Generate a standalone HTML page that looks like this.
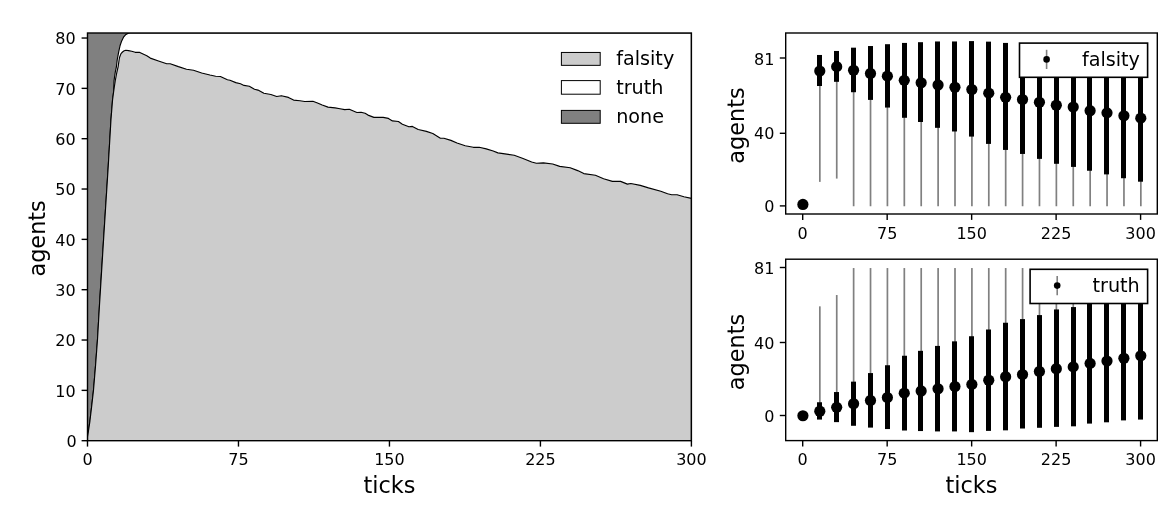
<!DOCTYPE html>
<html><head><meta charset="utf-8"><title>agents over ticks</title>
<style>html,body{margin:0;padding:0;background:#fff}svg{display:block}</style></head>
<body>
<svg width="1175" height="514" viewBox="0 0 1175 514" font-family="'DejaVu Sans', 'Liberation Sans', sans-serif" fill="#000">
<rect width="1175" height="514" fill="#fff"/>
<defs><clipPath id="c1"><rect x="87.5" y="33.0" width="603.9" height="407.7"/></clipPath>
<clipPath id="c2"><rect x="785.7" y="33.0" width="371.6" height="181.0"/></clipPath>
<clipPath id="c3"><rect x="785.7" y="259.2" width="371.7" height="181.4"/></clipPath></defs>
<g clip-path="url(#c1)" stroke="#000" stroke-width="1.15" stroke-linejoin="round">
<rect x="87.5" y="33.0" width="603.9" height="407.7" fill="#808080" stroke="none"/>
<polygon fill="#ffffff" points="87.50,437.00 88.30,432.00 89.90,421.30 91.60,407.00 93.50,390.30 95.60,365.00 97.50,339.50 99.50,305.00 103.80,236.00 108.20,167.00 110.95,120.00 112.55,100.00 113.60,92.00 114.05,80.50 115.30,72.00 116.40,66.80 117.20,60.00 118.70,51.80 120.10,45.50 121.70,40.90 123.50,37.20 125.50,34.80 127.80,33.40 130.00,32.90 691.40,32.90 691.4,440.7 87.5,440.7"/>
<polygon fill="#cccccc" points="87.50,437.00 88.30,432.00 89.90,421.30 91.60,407.00 93.50,390.30 95.60,365.00 97.50,339.50 99.50,305.00 103.80,236.00 108.20,167.00 110.95,120.00 112.55,100.00 113.60,92.00 114.30,87.00 115.30,80.50 116.90,72.00 118.10,66.80 119.10,60.00 119.60,57.20 121.00,53.60 122.50,52.00 124.20,50.80 125.80,50.30 128.50,50.60 131.70,51.30 135.20,52.30 139.30,52.30 146.80,55.80 150.30,58.10 158.50,61.00 166.70,63.70 170.20,63.70 178.40,66.60 186.50,69.20 193.50,70.30 201.70,73.00 209.90,75.00 215.70,76.20 220.40,76.50 227.40,79.70 230.00,80.30 235.80,82.60 240.50,83.80 244.00,85.40 249.30,86.30 254.50,89.30 258.00,90.10 263.90,93.30 270.90,94.50 276.70,96.50 281.40,95.70 288.40,97.40 293.60,100.10 300.00,100.70 304.70,101.50 312.90,101.30 317.50,103.00 322.20,105.00 328.00,107.10 335.10,107.90 340.00,108.70 344.70,109.60 349.30,109.30 356.90,112.50 361.00,112.20 365.10,113.30 368.00,115.10 373.90,117.40 383.20,117.40 388.40,118.40 392.50,120.90 398.40,121.50 402.40,124.20 408.90,126.80 412.40,126.40 418.20,129.50 426.40,131.40 432.80,133.50 440.40,138.20 443.90,138.20 450.90,140.40 457.00,143.00 465.20,145.70 473.30,147.30 479.20,147.30 486.20,148.90 493.20,151.00 497.90,152.90 504.90,153.90 514.20,155.30 522.40,158.20 531.70,162.00 536.40,163.20 543.40,162.90 552.70,164.00 559.70,166.40 570.20,167.70 577.70,170.60 583.80,173.60 595.40,175.20 603.60,178.80 612.40,181.40 620.60,181.40 627.40,184.10 630.80,183.50 640.30,185.40 648.50,187.90 660.80,191.30 667.60,193.80 671.70,194.70 677.10,194.70 683.90,196.70 691.40,198.40 691.4,440.7 87.5,440.7"/>
</g>
<rect x="87.5" y="33.0" width="603.9" height="407.7" stroke="#000" stroke-width="1.4" fill="none" stroke-linejoin="miter"/>
<line x1="87.50" y1="440.70" x2="87.50" y2="446.60" stroke="#000" stroke-width="1.4" fill="none"/>
<text x="87.50" y="465.1" font-size="16" text-anchor="middle">0</text>
<line x1="238.47" y1="440.70" x2="238.47" y2="446.60" stroke="#000" stroke-width="1.4" fill="none"/>
<text x="238.47" y="465.1" font-size="16" text-anchor="middle">75</text>
<line x1="389.45" y1="440.70" x2="389.45" y2="446.60" stroke="#000" stroke-width="1.4" fill="none"/>
<text x="389.45" y="465.1" font-size="16" text-anchor="middle">150</text>
<line x1="540.42" y1="440.70" x2="540.42" y2="446.60" stroke="#000" stroke-width="1.4" fill="none"/>
<text x="540.42" y="465.1" font-size="16" text-anchor="middle">225</text>
<line x1="691.40" y1="440.70" x2="691.40" y2="446.60" stroke="#000" stroke-width="1.4" fill="none"/>
<text x="691.40" y="465.1" font-size="16" text-anchor="middle">300</text>
<line x1="81.60" y1="440.70" x2="87.50" y2="440.70" stroke="#000" stroke-width="1.4" fill="none"/>
<text x="76.70" y="447.00" font-size="16" text-anchor="end">0</text>
<line x1="81.60" y1="390.37" x2="87.50" y2="390.37" stroke="#000" stroke-width="1.4" fill="none"/>
<text x="75.70" y="396.67" font-size="16" text-anchor="end">10</text>
<line x1="81.60" y1="340.03" x2="87.50" y2="340.03" stroke="#000" stroke-width="1.4" fill="none"/>
<text x="75.70" y="346.33" font-size="16" text-anchor="end">20</text>
<line x1="81.60" y1="289.70" x2="87.50" y2="289.70" stroke="#000" stroke-width="1.4" fill="none"/>
<text x="75.70" y="296.00" font-size="16" text-anchor="end">30</text>
<line x1="81.60" y1="239.37" x2="87.50" y2="239.37" stroke="#000" stroke-width="1.4" fill="none"/>
<text x="75.70" y="245.67" font-size="16" text-anchor="end">40</text>
<line x1="81.60" y1="189.03" x2="87.50" y2="189.03" stroke="#000" stroke-width="1.4" fill="none"/>
<text x="75.70" y="195.33" font-size="16" text-anchor="end">50</text>
<line x1="81.60" y1="138.70" x2="87.50" y2="138.70" stroke="#000" stroke-width="1.4" fill="none"/>
<text x="75.70" y="145.00" font-size="16" text-anchor="end">60</text>
<line x1="81.60" y1="88.37" x2="87.50" y2="88.37" stroke="#000" stroke-width="1.4" fill="none"/>
<text x="75.70" y="94.67" font-size="16" text-anchor="end">70</text>
<line x1="81.60" y1="38.03" x2="87.50" y2="38.03" stroke="#000" stroke-width="1.4" fill="none"/>
<text x="75.70" y="44.33" font-size="16" text-anchor="end">80</text>
<text x="389.4" y="492.8" font-size="22.4" text-anchor="middle">ticks</text>
<text transform="translate(45.4,238.4) rotate(-90)" font-size="22.4" text-anchor="middle">agents</text>
<rect x="561.4" y="52.45" width="38.8" height="12.9" fill="#cccccc" stroke="#000" stroke-width="1"/>
<text x="616.2" y="64.90" font-size="19.2">falsity</text>
<rect x="561.4" y="80.60" width="38.8" height="13.6" fill="#ffffff" stroke="#000" stroke-width="1"/>
<text x="616.2" y="93.90" font-size="19.2">truth</text>
<rect x="561.4" y="110.40" width="38.8" height="12.9" fill="#808080" stroke="#000" stroke-width="1"/>
<text x="616.2" y="122.70" font-size="19.2">none</text>
<g clip-path="url(#c2)">
<rect x="818.99" y="57.89" width="1.7" height="123.99" fill="#808080"/>
<rect x="835.89" y="57.89" width="1.7" height="120.70" fill="#808080"/>
<rect x="852.78" y="57.89" width="1.7" height="148.36" fill="#808080"/>
<rect x="869.68" y="57.89" width="1.7" height="148.36" fill="#808080"/>
<rect x="886.57" y="57.89" width="1.7" height="148.36" fill="#808080"/>
<rect x="903.47" y="57.89" width="1.7" height="148.36" fill="#808080"/>
<rect x="920.36" y="57.89" width="1.7" height="148.36" fill="#808080"/>
<rect x="937.26" y="57.89" width="1.7" height="148.36" fill="#808080"/>
<rect x="954.15" y="57.89" width="1.7" height="148.36" fill="#808080"/>
<rect x="971.05" y="57.89" width="1.7" height="148.36" fill="#808080"/>
<rect x="987.94" y="57.89" width="1.7" height="148.36" fill="#808080"/>
<rect x="1004.83" y="57.89" width="1.7" height="148.36" fill="#808080"/>
<rect x="1021.73" y="57.89" width="1.7" height="148.36" fill="#808080"/>
<rect x="1038.62" y="57.89" width="1.7" height="148.36" fill="#808080"/>
<rect x="1055.52" y="57.89" width="1.7" height="148.36" fill="#808080"/>
<rect x="1072.41" y="57.89" width="1.7" height="148.36" fill="#808080"/>
<rect x="1089.31" y="57.89" width="1.7" height="148.36" fill="#808080"/>
<rect x="1106.20" y="57.89" width="1.7" height="148.36" fill="#808080"/>
<rect x="1123.10" y="57.89" width="1.7" height="148.36" fill="#808080"/>
<rect x="1139.99" y="57.89" width="1.7" height="148.36" fill="#808080"/>
<rect x="817" y="54.97" width="5" height="31.04" fill="#000"/>
<rect x="834" y="50.96" width="5" height="30.86" fill="#000"/>
<rect x="851" y="47.67" width="5" height="44.55" fill="#000"/>
<rect x="868" y="46.03" width="5" height="53.87" fill="#000"/>
<rect x="885" y="44.20" width="5" height="63.36" fill="#000"/>
<rect x="902" y="42.92" width="5" height="74.87" fill="#000"/>
<rect x="918" y="42.19" width="5" height="79.80" fill="#000"/>
<rect x="935" y="41.46" width="5" height="86.37" fill="#000"/>
<rect x="952" y="41.46" width="5" height="90.02" fill="#000"/>
<rect x="969" y="41.09" width="5" height="95.50" fill="#000"/>
<rect x="986" y="41.64" width="5" height="102.26" fill="#000"/>
<rect x="1003" y="42.92" width="5" height="107.00" fill="#000"/>
<rect x="1020" y="45.11" width="5" height="108.83" fill="#000"/>
<rect x="1037" y="45.66" width="5" height="113.21" fill="#000"/>
<rect x="1054" y="46.57" width="5" height="117.23" fill="#000"/>
<rect x="1071" y="47.12" width="5" height="119.79" fill="#000"/>
<rect x="1087" y="50.59" width="5" height="120.15" fill="#000"/>
<rect x="1104" y="51.32" width="5" height="123.07" fill="#000"/>
<rect x="1121" y="53.33" width="5" height="124.90" fill="#000"/>
<rect x="1138" y="54.61" width="5" height="127.09" fill="#000"/>
<circle cx="802.90" cy="204.43" r="5.6"/>
<circle cx="819.79" cy="71.04" r="5.6"/>
<circle cx="836.69" cy="66.66" r="5.6"/>
<circle cx="853.58" cy="70.31" r="5.6"/>
<circle cx="870.48" cy="73.42" r="5.6"/>
<circle cx="887.37" cy="76.15" r="5.6"/>
<circle cx="904.27" cy="80.35" r="5.6"/>
<circle cx="921.16" cy="82.73" r="5.6"/>
<circle cx="938.06" cy="84.92" r="5.6"/>
<circle cx="954.95" cy="87.29" r="5.6"/>
<circle cx="971.85" cy="89.48" r="5.6"/>
<circle cx="988.74" cy="93.14" r="5.6"/>
<circle cx="1005.63" cy="97.34" r="5.6"/>
<circle cx="1022.53" cy="99.53" r="5.6"/>
<circle cx="1039.42" cy="102.27" r="5.6"/>
<circle cx="1056.32" cy="105.19" r="5.6"/>
<circle cx="1073.21" cy="107.01" r="5.6"/>
<circle cx="1090.11" cy="110.67" r="5.6"/>
<circle cx="1107.00" cy="112.86" r="5.6"/>
<circle cx="1123.90" cy="115.78" r="5.6"/>
<circle cx="1140.79" cy="118.15" r="5.6"/>
</g>
<rect x="785.7" y="33.0" width="371.6" height="181.0" stroke="#000" stroke-width="1.4" fill="none"/>
<line x1="802.70" y1="214.00" x2="802.70" y2="219.90" stroke="#000" stroke-width="1.4" fill="none"/>
<text x="802.70" y="238.50" font-size="16" text-anchor="middle">0</text>
<line x1="887.17" y1="214.00" x2="887.17" y2="219.90" stroke="#000" stroke-width="1.4" fill="none"/>
<text x="887.17" y="238.50" font-size="16" text-anchor="middle">75</text>
<line x1="971.65" y1="214.00" x2="971.65" y2="219.90" stroke="#000" stroke-width="1.4" fill="none"/>
<text x="971.65" y="238.50" font-size="16" text-anchor="middle">150</text>
<line x1="1056.12" y1="214.00" x2="1056.12" y2="219.90" stroke="#000" stroke-width="1.4" fill="none"/>
<text x="1056.12" y="238.50" font-size="16" text-anchor="middle">225</text>
<line x1="1140.59" y1="214.00" x2="1140.59" y2="219.90" stroke="#000" stroke-width="1.4" fill="none"/>
<text x="1140.59" y="238.50" font-size="16" text-anchor="middle">300</text>
<line x1="779.80" y1="58.00" x2="785.70" y2="58.00" stroke="#000" stroke-width="1.4" fill="none"/>
<text x="774.40" y="65" font-size="16" text-anchor="end">81</text>
<line x1="779.80" y1="133.30" x2="785.70" y2="133.30" stroke="#000" stroke-width="1.4" fill="none"/>
<text x="774.40" y="139" font-size="16" text-anchor="end">40</text>
<line x1="779.80" y1="205.90" x2="785.70" y2="205.90" stroke="#000" stroke-width="1.4" fill="none"/>
<text x="774.40" y="212" font-size="16" text-anchor="end">0</text>
<text transform="translate(743.6,125.6) rotate(-90)" font-size="22.4" text-anchor="middle">agents</text>
<rect x="1019.50" y="43.10" width="128.10" height="34.2" fill="#fff" stroke="#000" stroke-width="1.6"/>
<line x1="1046.60" y1="49.80" x2="1046.60" y2="69.00" stroke="#808080" stroke-width="1.6"/>
<circle cx="1046.60" cy="59.40" r="3.3"/>
<text x="1081.90" y="66.00" font-size="19.2">falsity</text>
<g clip-path="url(#c3)">
<rect x="818.99" y="306.34" width="1.7" height="108.86" fill="#808080"/>
<rect x="835.89" y="295.03" width="1.7" height="120.17" fill="#808080"/>
<rect x="852.78" y="268.04" width="1.7" height="147.16" fill="#808080"/>
<rect x="869.68" y="268.04" width="1.7" height="147.16" fill="#808080"/>
<rect x="886.57" y="268.04" width="1.7" height="147.16" fill="#808080"/>
<rect x="903.47" y="268.04" width="1.7" height="147.16" fill="#808080"/>
<rect x="920.36" y="268.04" width="1.7" height="147.16" fill="#808080"/>
<rect x="937.26" y="268.04" width="1.7" height="147.16" fill="#808080"/>
<rect x="954.15" y="268.04" width="1.7" height="147.16" fill="#808080"/>
<rect x="971.05" y="268.04" width="1.7" height="147.16" fill="#808080"/>
<rect x="987.94" y="268.04" width="1.7" height="147.16" fill="#808080"/>
<rect x="1004.83" y="268.04" width="1.7" height="147.16" fill="#808080"/>
<rect x="1021.73" y="268.04" width="1.7" height="147.16" fill="#808080"/>
<rect x="1038.62" y="268.96" width="1.7" height="146.24" fill="#808080"/>
<rect x="1055.52" y="268.96" width="1.7" height="146.24" fill="#808080"/>
<rect x="1072.41" y="268.96" width="1.7" height="146.24" fill="#808080"/>
<rect x="1089.31" y="268.96" width="1.7" height="146.24" fill="#808080"/>
<rect x="1106.20" y="268.96" width="1.7" height="146.24" fill="#808080"/>
<rect x="1123.10" y="268.96" width="1.7" height="146.24" fill="#808080"/>
<rect x="1139.99" y="268.96" width="1.7" height="146.24" fill="#808080"/>
<rect x="817" y="402.25" width="5" height="17.32" fill="#000"/>
<rect x="834" y="392.04" width="5" height="30.09" fill="#000"/>
<rect x="851" y="381.65" width="5" height="44.13" fill="#000"/>
<rect x="868" y="373.08" width="5" height="54.52" fill="#000"/>
<rect x="885" y="365.24" width="5" height="63.82" fill="#000"/>
<rect x="902" y="355.75" width="5" height="74.76" fill="#000"/>
<rect x="918" y="350.83" width="5" height="80.23" fill="#000"/>
<rect x="935" y="345.91" width="5" height="85.52" fill="#000"/>
<rect x="952" y="341.35" width="5" height="90.08" fill="#000"/>
<rect x="969" y="336.24" width="5" height="95.92" fill="#000"/>
<rect x="986" y="329.50" width="5" height="101.39" fill="#000"/>
<rect x="1003" y="322.75" width="5" height="107.59" fill="#000"/>
<rect x="1020" y="319.10" width="5" height="109.41" fill="#000"/>
<rect x="1037" y="315.09" width="5" height="112.69" fill="#000"/>
<rect x="1054" y="309.44" width="5" height="117.43" fill="#000"/>
<rect x="1071" y="307.07" width="5" height="119.26" fill="#000"/>
<rect x="1087" y="303.24" width="5" height="120.35" fill="#000"/>
<rect x="1104" y="299.77" width="5" height="122.54" fill="#000"/>
<rect x="1121" y="296.22" width="5" height="124.18" fill="#000"/>
<rect x="1138" y="291.93" width="5" height="127.64" fill="#000"/>
<circle cx="802.90" cy="415.75" r="5.6"/>
<circle cx="819.79" cy="411.19" r="5.6"/>
<circle cx="836.69" cy="407.36" r="5.6"/>
<circle cx="853.58" cy="403.71" r="5.6"/>
<circle cx="870.48" cy="400.43" r="5.6"/>
<circle cx="887.37" cy="397.51" r="5.6"/>
<circle cx="904.27" cy="393.14" r="5.6"/>
<circle cx="921.16" cy="390.95" r="5.6"/>
<circle cx="938.06" cy="388.76" r="5.6"/>
<circle cx="954.95" cy="386.57" r="5.6"/>
<circle cx="971.85" cy="384.38" r="5.6"/>
<circle cx="988.74" cy="380.19" r="5.6"/>
<circle cx="1005.63" cy="376.72" r="5.6"/>
<circle cx="1022.53" cy="374.54" r="5.6"/>
<circle cx="1039.42" cy="371.44" r="5.6"/>
<circle cx="1056.32" cy="368.70" r="5.6"/>
<circle cx="1073.21" cy="366.88" r="5.6"/>
<circle cx="1090.11" cy="363.41" r="5.6"/>
<circle cx="1107.00" cy="361.04" r="5.6"/>
<circle cx="1123.90" cy="358.31" r="5.6"/>
<circle cx="1140.79" cy="355.75" r="5.6"/>
</g>
<rect x="785.7" y="259.2" width="371.6" height="181.4" stroke="#000" stroke-width="1.4" fill="none"/>
<line x1="802.70" y1="440.60" x2="802.70" y2="446.50" stroke="#000" stroke-width="1.4" fill="none"/>
<text x="802.70" y="465.10" font-size="16" text-anchor="middle">0</text>
<line x1="887.17" y1="440.60" x2="887.17" y2="446.50" stroke="#000" stroke-width="1.4" fill="none"/>
<text x="887.17" y="465.10" font-size="16" text-anchor="middle">75</text>
<line x1="971.65" y1="440.60" x2="971.65" y2="446.50" stroke="#000" stroke-width="1.4" fill="none"/>
<text x="971.65" y="465.10" font-size="16" text-anchor="middle">150</text>
<line x1="1056.12" y1="440.60" x2="1056.12" y2="446.50" stroke="#000" stroke-width="1.4" fill="none"/>
<text x="1056.12" y="465.10" font-size="16" text-anchor="middle">225</text>
<line x1="1140.59" y1="440.60" x2="1140.59" y2="446.50" stroke="#000" stroke-width="1.4" fill="none"/>
<text x="1140.59" y="465.10" font-size="16" text-anchor="middle">300</text>
<line x1="779.80" y1="267.50" x2="785.70" y2="267.50" stroke="#000" stroke-width="1.4" fill="none"/>
<text x="774.40" y="274" font-size="16" text-anchor="end">81</text>
<line x1="779.80" y1="342.50" x2="785.70" y2="342.50" stroke="#000" stroke-width="1.4" fill="none"/>
<text x="774.40" y="349" font-size="16" text-anchor="end">40</text>
<line x1="779.80" y1="415.50" x2="785.70" y2="415.50" stroke="#000" stroke-width="1.4" fill="none"/>
<text x="774.40" y="422" font-size="16" text-anchor="end">0</text>
<text transform="translate(743.6,352.0) rotate(-90)" font-size="22.4" text-anchor="middle">agents</text>
<rect x="1030.10" y="269.30" width="117.50" height="34.2" fill="#fff" stroke="#000" stroke-width="1.6"/>
<line x1="1057.20" y1="276.00" x2="1057.20" y2="295.20" stroke="#808080" stroke-width="1.6"/>
<circle cx="1057.20" cy="285.60" r="3.3"/>
<text x="1092.50" y="292.20" font-size="19.2">truth</text>
<text x="971.5" y="492.8" font-size="22.4" text-anchor="middle">ticks</text>
</svg>
</body></html>
